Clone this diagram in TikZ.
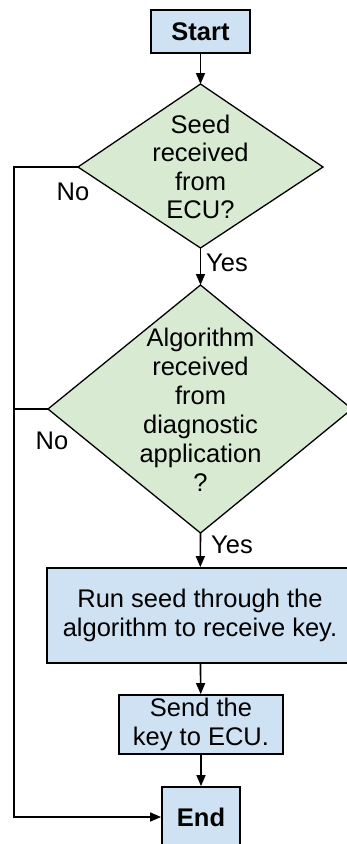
\documentclass[tikz,border=0pt]{standalone}
\usepackage{fontspec}
\setmainfont{Liberation Sans}
\usetikzlibrary{arrows.meta}
\definecolor{boxblue}{HTML}{CFE2F3}
\definecolor{diagreen}{HTML}{D9EAD3}
\begin{document}
\begin{tikzpicture}[x=1pt,y=-1pt,
  line width=1.6pt,
  arr/.style={-{Triangle[length=11pt,width=9pt]}},
  procbox/.style={draw=black, fill=boxblue, line width=1.8pt, inner sep=0pt, align=center, font=\fontsize{25.5}{28.5}\selectfont},
  decbox/.style={draw=black, fill=diagreen, line width=1.3pt},
  lbl/.style={font=\fontsize{25.5}{29}\selectfont, align=center, inner sep=0pt}]
\useasboundingbox (0,0) rectangle (347,844);
\clip (0,0) rectangle (347,844);
% boxes
\node[procbox, minimum width=99pt, minimum height=43pt] (start) at (200.5,31.5) {\bfseries Start};
\node[procbox, minimum width=306pt, minimum height=95pt] (run) at (200,615.5) {Run seed through the\\algorithm to receive key.};
\node[procbox, minimum width=164pt, minimum height=59pt] (send) at (201,724.5) {Send the\\key to ECU.};
\node[procbox, minimum width=78pt, minimum height=60pt] (end) at (201,817) {\bfseries End};
% diamond 1
\coordinate (d1t) at (200.5,84);
\coordinate (d1r) at (323,167);
\coordinate (d1b) at (200.5,248);
\coordinate (d1l) at (78,167);
\draw[decbox] (d1t) -- (d1r) -- (d1b) -- (d1l) -- cycle;
\node[lbl, font=\fontsize{25.5}{28.5}\selectfont] (d1txt) at (200.5,167) {Seed\\received\\from\\ECU?};
% diamond 2
\coordinate (d2t) at (200.5,285);
\coordinate (d2r) at (352,409);
\coordinate (d2b) at (200.5,533);
\coordinate (d2l) at (48,409);
\draw[decbox] (d2t) -- (d2r) -- (d2b) -- (d2l) -- cycle;
\node[lbl] (d2txt) at (200.5,410) {Algorithm\\received\\from\\diagnostic\\application\\?};
% connectors
\coordinate (lx) at (14,167);
\draw[arr] (start) -- (d1t);
\draw[arr] (d1b) -- (d2t);
\draw[arr] (d2b) -- (run);
\draw[arr] (run) -- (send);
\draw[arr] (send) -- (end);
\draw[arr] (d1l) -- (lx) |- (end);
\draw (d2l) -- (d2l -| lx);
% labels
\node[lbl] (no1) at (73,192) {No};
\node[lbl] (yes1) at (227,263) {Yes};
\node[lbl] (no2) at (52,441) {No};
\node[lbl] (yes2) at (232,545) {Yes};
\end{tikzpicture}
\end{document}
